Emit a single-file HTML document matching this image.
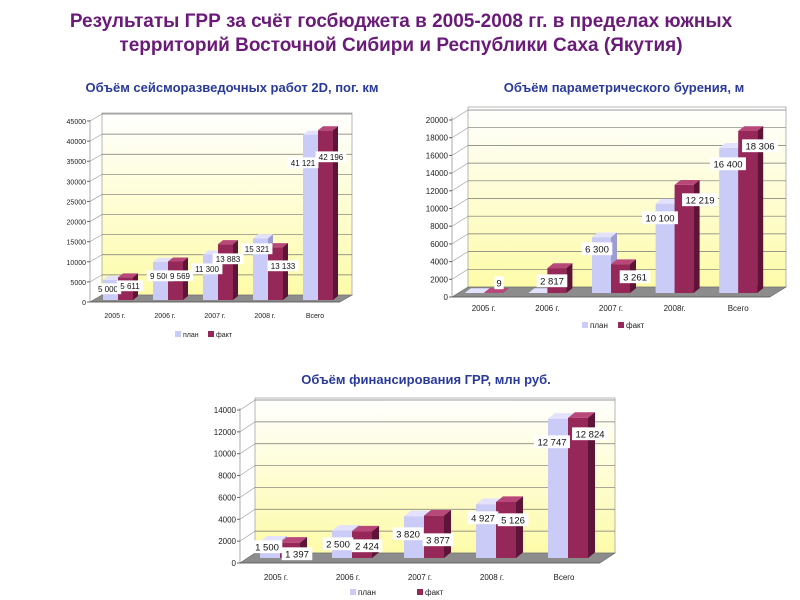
<!DOCTYPE html>
<html><head><meta charset="utf-8">
<style>
html,body{margin:0;padding:0;background:#fff;}
svg{display:block;font-family:"Liberation Sans","DejaVu Sans",sans-serif;}
</style></head>
<body>
<svg id="s" width="800" height="600" xmlns="http://www.w3.org/2000/svg">
<defs>
<linearGradient id="wall" x1="0" y1="0" x2="0" y2="1">
<stop offset="0" stop-color="#ffffff"/><stop offset="1" stop-color="#fdfba8"/>
</linearGradient>
</defs>
<text x="401" y="27" text-anchor="middle" font-size="19" font-weight="bold" fill="#6a1a78">Результаты ГРР за счёт госбюджета в 2005-2008 гг. в пределах южных</text>
<text x="401" y="51" text-anchor="middle" font-size="19" font-weight="bold" fill="#6a1a78">территорий Восточной Сибири и Республики Саха (Якутия)</text>
<text x="232" y="92" text-anchor="middle" font-size="13" font-weight="bold" fill="#2a3a9a">Объём сейсморазведочных работ 2D, пог. км</text>
<text x="624" y="92" text-anchor="middle" font-size="13" font-weight="bold" fill="#2a3a9a">Объём параметрического бурения, м</text>
<text x="426" y="384" text-anchor="middle" font-size="13" font-weight="bold" fill="#2a3a9a">Объём финансирования ГРР, млн руб.</text>
<g id="c"></g>
</svg>
<script>
var out="";
function chart(o){
 var dx=o.dx,dy=o.dy;
 out+='<rect x="'+(o.x0+dx)+'" y="'+o.top+'" width="'+(o.x1-o.x0)+'" height="'+(o.y0+dy-o.top)+'" fill="url(#wall)" stroke="#999" stroke-width="0.7"/>';
 out+='<line x1="'+o.x0+'" y1="'+(o.top-dy)+'" x2="'+o.x0+'" y2="'+o.y0+'" stroke="#888" stroke-width="0.7"/>';
 for(var v=o.step;v<=o.max;v+=o.step){
  var y=o.y0-v*o.k;
  out+='<line x1="'+(o.x0+dx)+'" y1="'+(y+dy)+'" x2="'+(o.x1+dx)+'" y2="'+(y+dy)+'" stroke="#777" stroke-width="0.7"/>';
  out+='<line x1="'+o.x0+'" y1="'+y+'" x2="'+(o.x0+dx)+'" y2="'+(y+dy)+'" stroke="#999" stroke-width="0.6"/>';
 }
 for(var v=0;v<=o.max;v+=o.step){
  var y=o.y0-v*o.k;
  out+='<text x="'+(o.x0-4)+'" y="'+(y+3)+'" text-anchor="end" font-size="'+o.fs+'" fill="#222">'+v+'</text>';
  out+='<line x1="'+(o.x0-3)+'" y1="'+y+'" x2="'+o.x0+'" y2="'+y+'" stroke="#666"/>';
 }
 out+='<polygon points="'+o.x0+','+o.y0+' '+(o.x1)+','+o.y0+' '+(o.x1+dx)+','+(o.y0+dy)+' '+(o.x0+dx)+','+(o.y0+dy)+'" fill="#8c8c8c" stroke="#666" stroke-width="0.6"/>';
 out+='<line x1="'+o.x0+'" y1="'+o.y0+'" x2="'+o.x1+'" y2="'+o.y0+'" stroke="#555" stroke-width="0.8"/>';
 var cw=(o.x1-o.x0)/5;
 for(var i=0;i<5;i++){
  var cx=o.x0+cw*(i+0.5);
  out+='<text x="'+cx+'" y="'+o.ly+'" text-anchor="middle" font-size="'+o.fs+'" fill="#222">'+o.cats[i]+'</text>';
  var cols=[["#cbcbf7","#e2e2ff","#9d9dd0"],["#952858","#b8477a","#5e1436"]];
  for(var s=0;s<2;s++){
   var v=o.vals[s][i],h=v*o.k,bx=cx-o.bw+s*o.bw+o.off,by=o.base-h,bd=o.bd;
   var c=cols[s];
   out+='<rect x="'+bx+'" y="'+by+'" width="'+o.bw+'" height="'+h+'" fill="'+c[0]+'"/>';
   out+='<polygon points="'+bx+','+by+' '+(bx+bd)+','+(by-bd*0.8)+' '+(bx+o.bw+bd)+','+(by-bd*0.8)+' '+(bx+o.bw)+','+by+'" fill="'+c[1]+'"/>';
   out+='<polygon points="'+(bx+o.bw)+','+by+' '+(bx+o.bw+bd)+','+(by-bd*0.8)+' '+(bx+o.bw+bd)+','+(o.base-bd*0.8)+' '+(bx+o.bw)+','+o.base+'" fill="'+c[2]+'"/>';
  }
 }
 for(var j=0;j<o.labs.length;j++){
  var L=o.labs[j],w=L[0].length*o.lf*0.56+4;
  out+='<rect x="'+(L[1]-w/2)+'" y="'+(L[2]-o.lf*0.7)+'" width="'+w+'" height="'+(o.lf*1.35)+'" fill="#fff"/>';
  out+='<text x="'+L[1]+'" y="'+(L[2]+o.lf*0.37)+'" text-anchor="middle" font-size="'+o.lf+'" fill="#111">'+L[0]+'</text>';
 }
 out+='<rect x="'+o.leg[0]+'" y="'+(o.leg[2]-6)+'" width="6" height="6" fill="#cbcbf7"/><text x="'+(o.leg[0]+8)+'" y="'+o.leg[2]+'" font-size="'+o.fs+'" fill="#222">план</text>';
 out+='<rect x="'+o.leg[1]+'" y="'+(o.leg[2]-6)+'" width="6" height="6" fill="#952858"/><text x="'+(o.leg[1]+8)+'" y="'+o.leg[2]+'" font-size="'+o.fs+'" fill="#222">факт</text>';
}
chart({x0:90,x1:340,y0:302,top:113,dx:12,dy:-7,k:181/45000,max:45000,step:5000,fs:7,base:300,bw:15,bd:5,off:3,ly:318,
 cats:["2005 г.","2006 г.","2007 г.","2008 г.","Всего"],
 vals:[[5000,9500,11300,15321,41121],[5611,9569,13883,13133,42196]],lf:8,
 labs:[["5 000",108,289],["5 611",130,286],["9 500",160,276],["9 569",180,276],["11 300",207,269],["13 883",228,259],["15 321",257,249],["13 133",283,266],["41 121",303,163],["42 196",331,157]],
 leg:[175,208,337]});
chart({x0:452,x1:770,y0:297,top:107,dx:16,dy:-10,k:177/20000,max:20000,step:2000,fs:8,base:293,bw:19,bd:6,off:0,ly:311,
 cats:["2005 г.","2006 г.","2007 г.","2008г.","Всего"],
 vals:[[0,0,6300,10100,16400],[9,2817,3261,12219,18306]],lf:9.5,
 labs:[["9",499,283],["2 817",552,281],["6 300",597,249],["3 261",635,277],["10 100",660,218],["12 219",700,200],["16 400",728,164],["18 306",760,146]],
 leg:[582,618,328]});
chart({x0:240,x1:600,y0:563,top:398,dx:15,dy:-10,k:153/14000,max:14000,step:2000,fs:8,base:558,bw:20,bd:7,off:4,ly:580,
 cats:["2005 г.","2006 г.","2007 г.","2008 г.","Всего"],
 vals:[[1500,2500,3820,4927,12747],[1397,2424,3877,5126,12824]],lf:9.5,
 labs:[["1 500",267,547],["1 397",297,554],["2 500",338,544],["2 424",367,546],["3 820",408,534],["3 877",438,540],["4 927",483,518],["5 126",513,520],["12 747",552,442],["12 824",590,434]],
 leg:[350,417,595]});
document.getElementById("c").innerHTML=out;
</script>
</body></html>
